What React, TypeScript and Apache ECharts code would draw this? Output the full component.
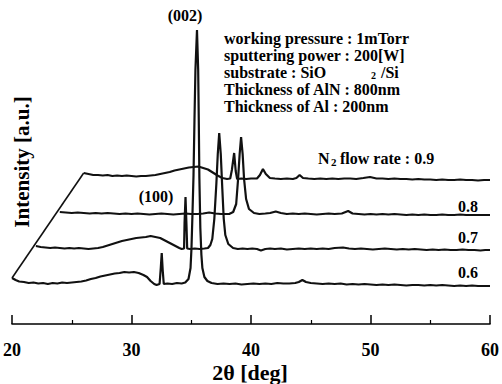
import React, { useEffect, useRef } from "react";
import * as echarts from "echarts";

// N2 flow-rate labels of the four XRD traces (front to back)
const flowRates = ["0.6", "0.7", "0.8", "0.9"];

// Each trace: [2θ (deg), intensity (a.u.)]
const trace06: [number, number][] = [
  [20.0, 6], [20.3, 4], [20.6, 2.5], [21.0, 2], [21.4, 1], [21.8, 1.5], [22.2, 0.5], [22.6, 1],
  [23.0, 0], [23.4, 1], [23.8, 0.5], [24.2, 1.5], [24.6, 1], [25.0, 1.5], [25.4, 2], [25.8, 2.5],
  [26.2, 3.5], [26.6, 5], [27.0, 6], [27.4, 7.5], [27.8, 8.5], [28.2, 9.5], [28.6, 10.5], [29.0, 11],
  [29.4, 12], [29.8, 11.5], [30.2, 12], [30.6, 11], [31.0, 9], [31.3, 7], [31.6, 3], [31.9, 0],
  [32.1, -1], [32.35, 0], [32.45, 16], [32.53, 31], [32.61, 14], [32.7, 0], [33.0, 0.5], [33.4, 0],
  [33.8, 1], [34.2, 0.5], [34.5, 1.5], [34.77, 5], [34.94, 16], [35.02, 36], [35.1, 69], [35.19, 109],
  [35.27, 164], [35.35, 214], [35.48, 254], [35.58, 214], [35.63, 164], [35.68, 106], [35.76, 56],
  [35.85, 29], [35.93, 16], [36.1, 7], [36.35, 3], [36.7, 1], [37.2, 0], [37.7, 0.5], [38.2, 0],
  [38.7, 0.5], [39.2, -0.5], [39.7, 0], [40.2, 0.5], [40.7, 0], [41.2, 0.5], [41.7, 0], [42.2, 1],
  [42.7, 0.5], [43.2, 0.5], [43.7, 1], [44.0, 2], [44.3, 4], [44.6, 2], [45.0, 1], [45.5, 0.5],
  [46.0, 0], [46.5, 0.5], [47.0, 0], [47.5, 0.5], [48.0, -0.5], [48.5, 0], [49.0, -0.5], [49.5, 0],
  [50.0, -0.5], [50.5, -1], [51.0, -0.5], [51.5, -1], [52.0, -0.5], [52.5, -1], [53.0, -1.5],
  [53.5, -1], [54.0, -1], [54.5, -1.5], [55.0, -1], [55.5, -1.5], [56.0, -1], [56.5, -1.5],
  [57.0, -2], [57.5, -1.5], [58.0, -2], [58.5, -1.5], [59.0, -2], [59.5, -2], [60.0, -2],
];

const trace07: [number, number][] = [
  [20.0, 3], [20.4, 2], [20.8, 1.5], [21.2, 1], [21.6, 1.5], [22.0, 1], [22.4, 0.5], [22.8, 1],
  [23.2, 0.5], [23.6, 1], [24.0, 0.5], [24.4, 0], [24.8, 0.5], [25.2, 1], [25.6, 2], [26.0, 3.5],
  [26.4, 5], [26.8, 6.5], [27.2, 8], [27.6, 9], [28.0, 10], [28.4, 11], [28.8, 11.5], [29.2, 12],
  [29.6, 13], [30.0, 12], [30.4, 11], [30.8, 8.5], [31.2, 6], [31.6, 3.5], [32.0, 1], [32.2, 0],
  [32.4, 0.5], [32.44, 26], [32.52, 52], [32.6, 24], [32.66, 0.5], [32.9, 0], [33.3, 0.5], [33.7, 0],
  [34.1, 0.5], [34.4, 1], [34.6, 4], [34.76, 10], [34.93, 30], [35.1, 65], [35.22, 95], [35.34, 116],
  [35.47, 95], [35.6, 60], [35.72, 30], [35.85, 14], [36.1, 5], [36.5, 1], [36.9, 0], [37.3, 0.5],
  [37.7, 0], [38.1, 0.5], [38.5, 0], [38.83, -1.5], [39.2, 0], [39.6, 0.5], [40.0, 0], [40.5, 0.5],
  [41.0, -0.5], [41.5, 0], [42.0, 0.5], [42.5, 0], [43.0, 0.5], [43.5, 0], [44.0, 0.5], [44.5, 0],
  [45.0, 1], [45.7, 1.5], [46.2, 0.5], [46.7, 0], [47.2, 0.5], [47.7, 0], [48.2, -0.5], [48.7, 0],
  [49.2, 0.5], [49.7, 0], [50.2, -0.5], [50.7, 0], [51.2, -0.5], [51.7, 0], [52.2, -0.5], [52.7, -1],
  [53.2, -0.5], [53.7, -1], [54.2, -0.5], [54.7, -1], [55.2, -1], [55.7, -0.5], [56.2, -1],
  [56.7, -1], [57.2, -1.5], [57.6, -1], [58.0, -1],
];

const trace08: [number, number][] = [
  [20.0, 2], [20.5, 1.5], [21.0, 1], [21.5, 1.5], [22.0, 1], [22.5, 0.5], [23.0, 1], [23.5, 0.5],
  [24.0, 1], [24.5, 0.5], [25.0, 0], [25.5, 0.5], [26.0, 0], [26.5, 0.5], [27.0, 0], [27.5, -0.5],
  [28.0, 0], [28.5, 0.5], [29.0, 0], [29.5, -0.5], [30.0, 0], [30.5, 0.5], [31.0, 0], [31.5, 0],
  [32.0, 0.5], [32.5, 1.5], [33.0, 0.5], [33.5, 0], [34.17, 0], [34.51, 2], [34.76, 10], [34.92, 35],
  [35.05, 60], [35.17, 77], [35.3, 60], [35.42, 35], [35.59, 15], [35.83, 5], [36.25, 1], [36.7, 0],
  [37.2, 0.5], [37.6, 1], [38.07, 2.5], [38.5, 1], [39.0, 0], [39.5, 0.5], [40.0, 0], [40.5, 0.5],
  [41.0, 0], [41.5, -0.5], [42.0, 0], [42.5, 0.5], [43.0, 0], [43.6, 0.5], [44.13, 3], [44.5, 0.5],
  [45.0, 0], [45.5, -0.5], [46.0, 0], [46.5, -0.5], [47.0, 0], [47.5, -0.5], [48.0, 0], [48.5, -0.5],
  [49.0, -1], [49.5, -0.5], [50.0, -1], [50.5, -0.5], [51.0, -1], [51.5, -1], [52.0, -0.5],
  [52.5, -1], [53.0, -1], [53.5, -0.5], [54.0, -1], [54.5, -1], [55.0, -1], [55.5, -1], [56.0, -1],
];

const trace09: [number, number][] = [
  [20.0, 6], [20.4, 5], [20.8, 4], [21.2, 4], [21.6, 3.5], [22.0, 4], [22.4, 3], [22.8, 3.5],
  [23.2, 3], [23.6, 3.5], [24.0, 3], [24.4, 2.5], [24.8, 3], [25.2, 3], [25.6, 3.5], [26.0, 4],
  [26.4, 5], [26.8, 6], [27.2, 7], [27.6, 8.5], [28.0, 9.5], [28.4, 10.5], [28.8, 11.5], [29.2, 12],
  [29.6, 12.5], [30.0, 11], [30.4, 9.5], [30.8, 6.5], [31.2, 3.5], [31.6, 1], [32.0, 0], [32.26, 0.5],
  [32.4, 9], [32.59, 26], [32.72, 8], [32.84, 0], [33.2, 0.5], [33.6, 0], [34.0, 0.5], [34.5, 0.5],
  [34.75, 4], [35.0, 10], [35.24, 5], [35.58, 1], [36.0, 0.5], [36.5, 0], [37.0, 0.5], [37.5, 0],
  [37.8, 1], [38.07, 4], [38.35, 1], [38.8, 0.5], [39.3, 0], [39.8, 0.5], [40.3, 0], [40.8, 0.5],
  [41.3, 0], [41.8, 0.5], [42.3, 0.5], [42.8, 0], [43.4, 1], [43.96, 2], [44.5, 0.5], [45.0, 0.5],
  [45.5, 0], [46.0, 0.5], [46.5, 0], [47.0, 0], [47.5, -0.5], [48.0, 0], [48.5, -0.5], [49.0, -0.5],
  [49.5, -1], [50.0, -0.5], [50.5, -1], [51.0, -1], [51.5, -0.5], [52.0, -1], [52.5, -1],
  [53.0, -1.5], [53.5, -1], [54.0, -1],
];

const traces = [trace06, trace07, trace08, trace09];

// waterfall offsets: vertical offset (a.u.) of each trace, and 2θ shift per trace (deg)
const baseOffsets = [40, 75, 110, 145];
const thetaShift = 2;

const xTicks = [20, 30, 40, 50, 60];

const infoLines = [
  "working pressure : 1mTorr",
  "sputtering power : 200[W]",
  "substrate : SiO",
  "Thickness of AlN : 800nm",
  "Thickness of Al : 200nm",
];

const SERIF = '"Liberation Serif", "Times New Roman", serif';
const font = (size: number) => `bold ${size}px ${SERIF}`;

function txt(text: string, x: number, y: number, size: number, align = "left", extra: any = {}) {
  return {
    type: "text",
    x,
    y,
    ...extra,
    style: {
      text,
      font: font(size),
      fill: "#000",
      align,
      verticalAlign: "middle",
      textAlign: align,
      textVerticalAlign: "middle",
    },
  };
}

export default function App() {
  const ref = useRef<HTMLDivElement>(null);

  useEffect(() => {
    if (!ref.current) return;
    const chart = echarts.init(ref.current, null, { renderer: "svg" });

    const plotted = traces.map((tr, k) =>
      tr.map(([t, v]) => [t + thetaShift * k, v + baseOffsets[k]])
    );

    const lineStyle = { color: "#111", width: 2.2 };

    const series: any[] = plotted.map((data, k) => ({
      type: "line",
      name: flowRates[k],
      data,
      showSymbol: false,
      symbol: "none",
      lineStyle,
      silent: true,
    }));

    // slanted edge joining the starts of the front and back traces
    series.push({
      type: "line",
      data: [plotted[0][0], plotted[3][0]],
      showSymbol: false,
      symbol: "none",
      lineStyle: { color: "#111", width: 1.6 },
      silent: true,
    });

    const graphic: any[] = [
      txt("(002)", 185, 15, 16, "center"),
      txt("(100)", 156, 196, 16, "center"),
      ...infoLines.map((s, i) => txt(s, 224, 38 + i * 17, 16)),
      txt("2", 371, 75.5, 10),
      txt("/Si", 381, 72, 16),
      txt("N", 318, 158, 16),
      txt("2", 331, 162, 11),
      txt("flow rate : " + flowRates[3], 340, 158, 16),
      txt(flowRates[2], 468, 206, 16, "center"),
      txt(flowRates[1], 468, 237, 16, "center"),
      txt(flowRates[0], 468, 272, 16, "center"),
      txt("Intensity [a.u.]", 22, 162, 21, "center", { rotation: Math.PI / 2 }),
      txt("2θ [deg]", 250, 372, 22, "center"),
    ];

    chart.setOption({
      animation: false,
      backgroundColor: "#fff",
      grid: { left: 9, right: 11, top: 10, bottom: 60 },
      xAxis: {
        type: "value",
        min: xTicks[0],
        max: xTicks[xTicks.length - 1],
        interval: 10,
        axisLine: { show: true, lineStyle: { color: "#000", width: 1.6 } },
        axisTick: { show: true, inside: true, length: 9, lineStyle: { color: "#000", width: 1.5 } },
        minorTick: { show: true, splitNumber: 2, length: 4, lineStyle: { color: "#000", width: 1.2 } },
        axisLabel: {
          color: "#000",
          fontSize: 18,
          fontWeight: "bold",
          fontFamily: SERIF,
          margin: 17,
        },
        splitLine: { show: false },
      },
      yAxis: { type: "value", min: 0, max: 314, show: false },
      series,
      graphic,
    });

    return () => chart.dispose();
  }, []);

  return (
    <div
      ref={ref}
      style={{ position: "fixed", left: 0, top: 0, width: 502, height: 384, background: "#fff" }}
    />
  );
}
